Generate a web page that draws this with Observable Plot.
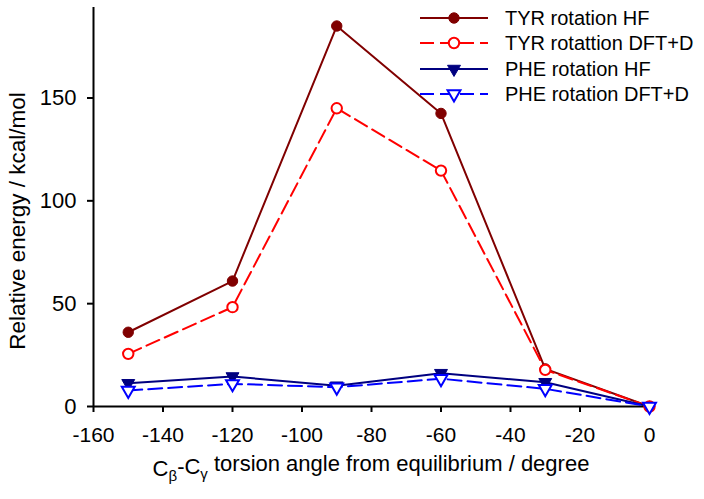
<!DOCTYPE html>
<html>
<head>
<meta charset="utf-8">
<script src="https://cdn.jsdelivr.net/npm/d3@7"></script>
<script src="https://cdn.jsdelivr.net/npm/@observablehq/plot@0.6"></script>
<style>
  html, body { margin: 0; padding: 0; background: #fff; }
  svg { display: block; }
</style>
</head>
<body>
<div id="chart"></div>
<script>
// ---- data ----
const angles = [-150, -120, -90, -60, -30, 0];
const tyrHF  = [36.1, 61.0, 185.0, 142.5, 18.3, 0];
const tyrDFT = [25.6, 48.3, 145.0, 114.7, 17.8, 0];
const pheHF  = [11.3, 14.6, 10.1, 16.2, 11.8, 0];
const pheDFT = [7.8, 11.0, 9.4, 13.5, 8.6, 0];
const seriesNames = ["TYR rotation HF", "TYR rotattion DFT+D", "PHE rotation HF", "PHE rotation DFT+D"];
const xTicks = [-160, -140, -120, -100, -80, -60, -40, -20, 0];
const yTicks = [0, 50, 100, 150];

// ---- styles ----
const styles = [
  {color: "#800000", dash: null,   symbol: "circle",   fill: "#800000", rotate: 0},
  {color: "#ff0000", dash: "14,6", symbol: "circle",   fill: "#ffffff", rotate: 0},
  {color: "#000080", dash: null,   symbol: "triangle", fill: "#000080", rotate: 180},
  {color: "#0000ff", dash: "14,6", symbol: "triangle", fill: "#ffffff", rotate: 180}
];
const valuesList = [tyrHF, tyrDFT, pheHF, pheDFT];
const tables = valuesList.map((vals, i) => angles.map((a, j) => ({angle: a, energy: vals[j], series: seriesNames[i]})));

const W = 704, H = 499;
const mL = 93, mR = 55, mT = 7, mB = 93;
const font = "'Liberation Sans', Arial, Helvetica, sans-serif";

const lineMarks = tables.map((t, i) => Plot.line(t, {
  x: "angle", y: "energy", stroke: styles[i].color, strokeWidth: 2,
  strokeDasharray: styles[i].dash
}));
const dotMarks = tables.map((t, i) => Plot.dot(t, {
  x: "angle", y: "energy", symbol: styles[i].symbol,
  r: styles[i].symbol === "circle" ? 5.2 : 4.8,
  fill: styles[i].fill, stroke: styles[i].color,
  strokeWidth: styles[i].fill === "#ffffff" ? 2 : 1,
  rotate: styles[i].rotate
}));

const chart = Plot.plot({
  width: W, height: H,
  marginLeft: mL, marginRight: mR, marginTop: mT, marginBottom: mB,
  style: {fontFamily: font, fontSize: "21px", color: "#000", background: "#fff"},
  x: {domain: [-160, 0]},
  y: {domain: [0, 194]},
  marks: [
    Plot.axisX({ticks: xTicks, tickSize: 6, tickPadding: 15, label: null, fontSize: 21, strokeWidth: 2, tickFormat: d => String(d)}),
    Plot.axisY({ticks: yTicks, tickSize: 6, tickPadding: 11, label: null, fontSize: 22, strokeWidth: 2}),
    Plot.ruleY([0], {stroke: "#000", strokeWidth: 2}),
    Plot.ruleX([-160], {stroke: "#000", strokeWidth: 2}),
    ...lineMarks,
    ...dotMarks
  ]
});

document.getElementById("chart").appendChild(chart);

const svg = d3.select(chart);

// axis titles
const xt = svg.append("text")
  .attr("x", (mL + (W - mR)) / 2).attr("y", 476)
  .attr("text-anchor", "middle")
  .style("font-family", font).style("font-size", "22px").attr("fill", "#000");
xt.append("tspan").text("C");
xt.append("tspan").attr("dy", "0.35em").style("font-size", "15px").text("\u03b2");
xt.append("tspan").attr("dy", "-0.35em").text("-C");
xt.append("tspan").attr("dy", "0.35em").style("font-size", "15px").text("\u03b3");
xt.append("tspan").attr("dy", "-0.35em").text(" torsion angle from equilibrium / degree");

svg.append("text")
  .attr("transform", `translate(25,221) rotate(-90)`)
  .attr("text-anchor", "middle")
  .style("font-family", font).style("font-size", "22.5px").attr("fill", "#000")
  .text("Relative energy / kcal/mol");

// legend
const rowsY = [18, 43, 69, 94];
const lg = svg.append("g").attr("text-anchor", "start");
seriesNames.forEach((name, i) => {
  const s = styles[i];
  const y = rowsY[i];
  lg.append("line").attr("x1", 420).attr("x2", 488).attr("y1", y).attr("y2", y)
    .attr("stroke", s.color).attr("stroke-width", 2)
    .attr("stroke-dasharray", s.dash ? "14,6" : null);
  const isC = s.symbol === "circle";
  const sym = d3.symbol().type(isC ? d3.symbolCircle : d3.symbolTriangle)
    .size(isC ? Math.PI * 5.2 * 5.2 : Math.PI * 4.8 * 4.8);
  lg.append("path").attr("d", sym())
    .attr("transform", `translate(454,${y}) rotate(${s.rotate})`)
    .attr("fill", s.fill).attr("stroke", s.color)
    .attr("stroke-width", s.fill === "#ffffff" ? 2 : 1);
  lg.append("text").attr("x", 505).attr("y", y).attr("dy", "0.35em")
    .attr("text-anchor", "start")
    .style("font-family", font).style("font-size", "20px").attr("fill", "#000")
    .text(name);
});
</script>
</body>
</html>
